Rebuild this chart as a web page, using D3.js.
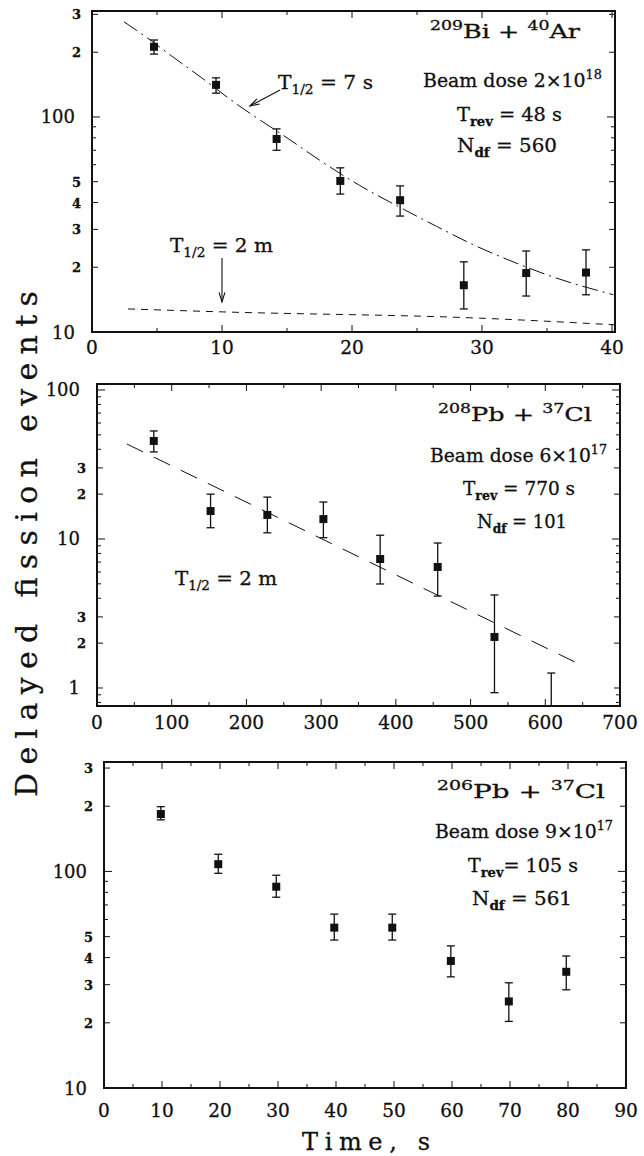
<!DOCTYPE html>
<html><head><meta charset="utf-8">
<script src="https://cdn.jsdelivr.net/npm/d3@7"></script>
<style>
body{margin:0;background:#fff}
svg{display:block}
text{font-family:"DejaVu Serif",serif;fill:#111;stroke:#111;stroke-width:0.3px}
</style>
</head><body><script>
// ---------- Panel 1 : 209Bi + 40Ar ----------
const p1Time      = [4.77, 9.54, 14.2, 19.1, 23.7, 28.6, 33.4, 38.0];
const p1Counts    = [212, 141, 79, 50.4, 41, 16.5, 18.8, 18.9];
const p1ErrLow    = [196, 129, 70, 43.8, 34.6, 12.8, 14.7, 14.9];
const p1ErrHigh   = [228, 152, 88, 58, 47.8, 21.2, 23.8, 24.1];
const p1FitTime   = [2.46, 3.92, 6.23, 8.7, 10.85, 12.15, 15.0, 17.5, 20.6, 23.5, 26.5, 29.3, 31.9, 35.5, 40.1];
const p1FitCounts = [277, 241, 190, 148, 118, 104, 80, 63, 48, 38.5, 31, 25.5, 21.8, 18, 14.9];
const p1BgTime    = [2.77, 10.1, 29.8, 40.2];
const p1BgCounts  = [12.8, 12.4, 11.6, 10.8];
const p1XTicks    = [0, 10, 20, 30, 40];
const p1YTicks    = [10, 20, 30, 40, 50, 60, 70, 80, 90, 100, 200, 300];
const p1YLabels   = ["10", "2", "3", "4", "5", "", "", "", "", "100", "2", "3"];

// ---------- Panel 2 : 208Pb + 37Cl ----------
const p2Time      = [76, 152, 228, 303, 379, 456, 532, 608];
const p2Counts    = [45.5, 15.4, 14.5, 13.6, 7.34, 6.49, 2.20, 0.5];
const p2ErrLow    = [38.4, 11.9, 11.0, 10.2, 4.99, 4.14, 0.93, 0.3];
const p2ErrHigh   = [53.1, 20.0, 19.1, 17.7, 10.6, 9.4, 4.21, 1.26];
const p2FitTime   = [40, 645];
const p2FitCounts = [43.4, 1.45];
const p2XTicks    = [0, 100, 200, 300, 400, 500, 600, 700];
const p2YTicks    = [0.8, 0.9, 1, 2, 3, 4, 5, 6, 7, 8, 9, 10, 20, 30, 40, 50, 60, 70, 80, 90, 100];
const p2YLabels   = ["", "", "1", "2", "3", "", "", "", "", "", "", "10", "2", "3", "", "", "", "", "", "", "100"];

// ---------- Panel 3 : 206Pb + 37Cl ----------
const p3Time      = [9.8, 19.7, 29.7, 39.7, 49.7, 59.8, 69.8, 79.7];
const p3Counts    = [184, 108, 85, 55, 55, 38.6, 25.1, 34.4];
const p3ErrLow    = [173, 98, 76, 48.2, 48.2, 32.6, 20.3, 28.4];
const p3ErrHigh   = [199, 120, 96, 63.5, 63.5, 45.3, 30.6, 40.7];
const p3XTicks    = [0, 10, 20, 30, 40, 50, 60, 70, 80, 90];
const p3YTicks    = [10, 20, 30, 40, 50, 60, 70, 80, 90, 100, 200, 300];
const p3YLabels   = ["10", "2", "3", "4", "5", "", "", "", "", "100", "2", "3"];

const W = 644, H = 1156;
const svg = d3.select("body").append("svg").attr("width", W).attr("height", H);
const INK = "#111";

function rich(g, x, y, parts, size, opts = {}) {
  const t = g.append("text").attr("x", x).attr("y", y).attr("font-size", size)
    .attr("text-anchor", opts.anchor || "start");
  let cur = 0;
  parts.forEach(([s, kind]) => {
    const off = kind === "sup" ? -0.42 * size : kind === "sub" ? 0.3 * size : 0;
    const ts = t.append("tspan").text(s).attr("dy", off - cur);
    if (kind) ts.attr("font-size", size * 0.68);
    if (kind === "sub" && opts.boldSub) ts.attr("font-weight", "bold");
    cur = off;
  });
  if (opts.len) t.attr("textLength", opts.len).attr("lengthAdjust", "spacingAndGlyphs");
  return t;
}

let clipId = 0;
function panel(cfg) {
  const g = svg.append("g");
  const x = d3.scaleLinear().domain(cfg.xDomain).range([cfg.left, cfg.right]);
  const y = d3.scaleLog().domain(cfg.yDomain).range([cfg.bottom, cfg.top]);
  const id = "clip" + (clipId++);
  svg.append("clipPath").attr("id", id).append("rect")
    .attr("x", cfg.left).attr("y", cfg.top)
    .attr("width", cfg.right - cfg.left).attr("height", cfg.bottom - cfg.top);

  // y ticks (left & right, inward)
  cfg.yTicks.forEach((v, i) => {
    const major = cfg.yLabels[i] !== "";
    const len = (cfg.yLabels[i].length > 1) ? 8 : (major ? 6 : 4);
    const yy = y(v);
    g.append("line").attr("x1", cfg.left).attr("x2", cfg.left + len).attr("y1", yy).attr("y2", yy)
      .attr("stroke", INK).attr("stroke-width", 1);
    g.append("line").attr("x1", cfg.right).attr("x2", cfg.right - len).attr("y1", yy).attr("y2", yy)
      .attr("stroke", INK).attr("stroke-width", 1);
    const lab = cfg.yLabels[i];
    if (lab) {
      const big = lab.length > 1 || lab === "1";
      g.append("text").attr("x", cfg.left - (big ? 17 : 11)).attr("y", yy + (big ? 6.5 : 5))
        .attr("text-anchor", "end").attr("font-size", big ? 18 : 13)
        .attr("font-weight", big ? "normal" : "bold").text(lab);
    }
  });
  // x ticks
  const minor = d3.range(cfg.xDomain[0], cfg.xDomain[1] + 1e-9, cfg.xMinor);
  minor.forEach(v => {
    const isMajor = cfg.xTicks.includes(v);
    const len = isMajor ? 7 : 4;
    g.append("line").attr("x1", x(v)).attr("x2", x(v)).attr("y1", cfg.bottom).attr("y2", cfg.bottom - len)
      .attr("stroke", INK).attr("stroke-width", 1);
    g.append("line").attr("x1", x(v)).attr("x2", x(v)).attr("y1", cfg.top).attr("y2", cfg.top + len)
      .attr("stroke", INK).attr("stroke-width", 1);
  });
  cfg.xTicks.forEach(v => {
    g.append("text").attr("x", x(v)).attr("y", cfg.xLabelY).attr("text-anchor", "middle")
      .attr("font-size", 18.5).text(v);
  });

  const plot = g.append("g").attr("clip-path", `url(#${id})`);
  (cfg.curves || []).forEach(c => {
    const pts = c.t.map((t, i) => [t, c.v[i]]);
    plot.append("path").datum(pts)
      .attr("d", d3.line().x(d => x(d[0])).y(d => y(d[1])).curve(d3.curveMonotoneX))
      .attr("fill", "none").attr("stroke", INK).attr("stroke-width", c.w || 1)
      .attr("stroke-dasharray", c.dash);
  });
  cfg.t.forEach((t, i) => {
    const xx = x(t);
    plot.append("line").attr("x1", xx).attr("x2", xx).attr("y1", y(cfg.lo[i])).attr("y2", y(cfg.hi[i]))
      .attr("stroke", INK).attr("stroke-width", 1.3);
    [cfg.lo[i], cfg.hi[i]].forEach(v => {
      plot.append("line").attr("x1", xx - 4).attr("x2", xx + 4).attr("y1", y(v)).attr("y2", y(v))
        .attr("stroke", INK).attr("stroke-width", 1.3);
    });
    plot.append("rect").attr("x", xx - 4).attr("y", y(cfg.v[i]) - 4).attr("width", 8).attr("height", 8)
      .attr("fill", INK);
  });
  g.append("rect").attr("x", cfg.left).attr("y", cfg.top)
    .attr("width", cfg.right - cfg.left).attr("height", cfg.bottom - cfg.top)
    .attr("fill", "none").attr("stroke", INK).attr("stroke-width", 2);
  return {g, x, y};
}

function arrow(g, x1, y1, x2, y2) {
  g.append("line").attr("x1", x1).attr("y1", y1).attr("x2", x2).attr("y2", y2)
    .attr("stroke", INK).attr("stroke-width", 1.1);
  const a = Math.atan2(y2 - y1, x2 - x1), L = 10, s = 0.3;
  const p = [[x2 - L * Math.cos(a - s), y2 - L * Math.sin(a - s)], [x2, y2], [x2 - L * Math.cos(a + s), y2 - L * Math.sin(a + s)]];
  g.append("path").attr("d", d3.line()(p)).attr("fill", "none").attr("stroke", INK).attr("stroke-width", 1.1);
}

// ---- Panel 1
const P1 = panel({
  left: 92, right: 615, top: 11, bottom: 332, xDomain: [0, 40.23], yDomain: [10, 311],
  xMinor: 5, xTicks: p1XTicks, xLabelY: 354, yTicks: p1YTicks, yLabels: p1YLabels,
  t: p1Time, v: p1Counts, lo: p1ErrLow, hi: p1ErrHigh,
  curves: [
    {t: p1FitTime, v: p1FitCounts, dash: "16,5,2,5"},
    {t: p1BgTime, v: p1BgCounts, dash: "7,6"}
  ]
});
rich(P1.g, 430, 38, [["209", "sup"], ["Bi + ", null], ["40", "sup"], ["Ar", null]], 19, {len: 150});
rich(P1.g, 423, 87, [["Beam dose 2×10", null], ["18", "sup"]], 18, {len: 179});
rich(P1.g, 457, 121, [["T", null], ["rev", "sub"], [" = 48 s", null]], 18, {len: 105, boldSub: true});
rich(P1.g, 457, 152, [["N", null], ["df", "sub"], [" = 560", null]], 18, {len: 100, boldSub: true});
rich(P1.g, 278, 89, [["T", null], ["1/2", "sub"], [" = 7 s", null]], 18, {len: 95});
rich(P1.g, 170, 252, [["T", null], ["1/2", "sub"], [" = 2 m", null]], 18, {len: 103});
arrow(P1.g, P1.x(14.46), P1.y(133.6), P1.x(12.15), P1.y(112.5));
arrow(P1.g, P1.x(10.0), P1.y(22.1), P1.x(10.0), P1.y(13.8));

// ---- Panel 2
const P2 = panel({
  left: 97, right: 620, top: 384, bottom: 706, xDomain: [0, 700], yDomain: [0.757, 109.7],
  xMinor: 50, xTicks: p2XTicks, xLabelY: 729, yTicks: p2YTicks, yLabels: p2YLabels,
  t: p2Time, v: p2Counts, lo: p2ErrLow, hi: p2ErrHigh,
  curves: [{t: p2FitTime, v: p2FitCounts, dash: "18,12"}]
});
rich(P2.g, 438, 421, [["208", "sup"], ["Pb + ", null], ["37", "sup"], ["Cl", null]], 19, {len: 154});
rich(P2.g, 430, 462, [["Beam dose 6×10", null], ["17", "sup"]], 18, {len: 177});
rich(P2.g, 463, 495, [["T", null], ["rev", "sub"], [" = 770 s", null]], 18, {len: 112, boldSub: true});
rich(P2.g, 477, 528, [["N", null], ["df", "sub"], [" = 101", null]], 18, {len: 90, boldSub: true});
rich(P2.g, 175, 585, [["T", null], ["1/2", "sub"], [" = 2 m", null]], 18, {len: 102});

// ---- Panel 3
const P3 = panel({
  left: 104, right: 626, top: 762, bottom: 1088, xDomain: [0, 90], yDomain: [10, 320],
  xMinor: 5, xTicks: p3XTicks, xLabelY: 1117, yTicks: p3YTicks, yLabels: p3YLabels,
  t: p3Time, v: p3Counts, lo: p3ErrLow, hi: p3ErrHigh, curves: []
});
rich(P3.g, 437, 798, [["206", "sup"], ["Pb + ", null], ["37", "sup"], ["Cl", null]], 19, {len: 168});
rich(P3.g, 435, 838, [["Beam dose 9×10", null], ["17", "sup"]], 18, {len: 178});
rich(P3.g, 468, 872, [["T", null], ["rev", "sub"], ["= 105 s", null]], 18, {len: 110, boldSub: true});
rich(P3.g, 472, 905, [["N", null], ["df", "sub"], [" = 561", null]], 18, {len: 100, boldSub: true});

// ---- Axis titles
svg.append("text").attr("transform", "translate(37,544) rotate(-90)")
  .attr("text-anchor", "middle").attr("font-size", 30)
  .attr("textLength", 506).attr("lengthAdjust", "spacing")
  .text("Delayed fission events");
svg.append("text").attr("x", 302).attr("y", 1150).attr("font-size", 24)
  .attr("textLength", 128).attr("lengthAdjust", "spacing")
  .text("Time, s");
</script></body></html>
